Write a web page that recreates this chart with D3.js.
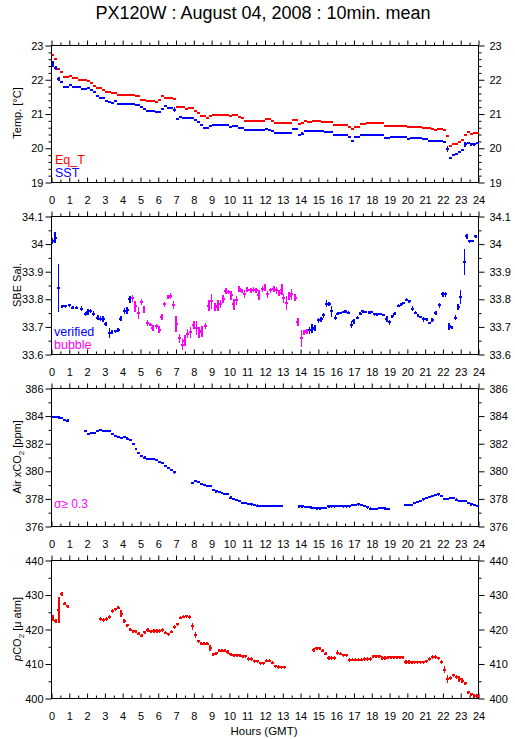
<!DOCTYPE html>
<html><head><meta charset="utf-8">
<script src="https://cdn.jsdelivr.net/npm/d3@7"></script>
<style>
body{margin:0;background:#fff}
svg{display:block}
text{font-family:"Liberation Sans",Arial,Helvetica,sans-serif}
</style>
</head><body>
<svg id="c" width="515" height="739"></svg>
<script>
// ---------------- DATA ----------------
const hourTicks = [0,1,2,3,4,5,6,7,8,9,10,11,12,13,14,15,16,17,18,19,20,21,22,23,24];
const halfTicks = [0.5,1.5,2.5,3.5,4.5,5.5,6.5,7.5,8.5,9.5,10.5,11.5,12.5,13.5,14.5,15.5,16.5,17.5,18.5,19.5,20.5,21.5,22.5,23.5];

// Panel 1: temperatures, 10-minute slots (6 per hour)
const eqT = [
 22.72,22.60,22.32,22.23,22.08,22.08, 22.11,22.06,22.06,22.00,22.00,22.00,
 21.97,21.90,21.83,21.76,21.76,21.69, 21.63,21.63,21.60,21.60,21.56,21.56,
 21.56,21.56,21.56,21.56,21.52,21.52, 21.42,21.42,21.39,21.39,21.39,21.36,
 21.41,21.53,21.47,21.47,21.47,21.44, 21.20,21.20,21.20,21.16,21.18,21.18,
 21.10,21.03,20.93,20.93,20.89,20.95, 20.96,20.96,20.96,20.96,20.96,20.96,
 20.93,20.96,20.96,20.91,20.87,20.81, 20.81,20.81,20.81,20.81,20.81,20.81,
 20.84,20.84,20.81,20.75,20.75,20.75, 20.75,20.75,20.75,20.83,20.83,20.70,
 20.75,20.80,20.78,20.78,20.81,20.81, 20.81,20.77,20.77,20.78,20.78,20.69,
 20.69,20.69,20.69,20.69,20.62,20.55, 20.62,20.62,20.72,20.72,20.73,20.73,
 20.73,20.73,20.73,20.73,20.66,20.66, 20.66,20.66,20.66,20.66,20.66,20.66,
 20.62,20.62,20.62,20.62,20.62,20.59, 20.59,20.59,20.56,20.52,20.55,20.55,
 20.52,20.37,20.08,20.11,20.11,20.18, 20.25,20.39,20.48,20.42,20.45,20.45
];
const sst = [
 22.46,22.34,22.02,21.94,21.80,21.80, 21.85,21.80,21.80,21.80,21.74,21.74,
 21.75,21.70,21.65,21.53,21.48,21.48, 21.39,21.35,21.31,21.37,21.30,21.30,
 21.30,21.30,21.30,21.30,21.26,21.26, 21.20,21.14,21.10,21.10,21.10,21.07,
 21.07,21.14,21.22,21.18,21.18,21.12, 20.86,20.92,20.89,20.89,20.89,20.89,
 20.83,20.77,20.69,20.59,20.59,20.66, 20.67,20.67,20.67,20.67,20.67,20.67,
 20.62,20.65,20.65,20.60,20.60,20.54, 20.52,20.52,20.52,20.52,20.52,20.52,
 20.55,20.52,20.49,20.44,20.44,20.44, 20.44,20.44,20.44,20.55,20.55,20.39,
 20.43,20.51,20.51,20.51,20.51,20.51, 20.51,20.51,20.48,20.48,20.48,20.39,
 20.39,20.39,20.39,20.39,20.34,20.22, 20.32,20.32,20.39,20.39,20.39,20.39,
 20.39,20.39,20.39,20.39,20.30,20.30, 20.34,20.34,20.34,20.34,20.32,20.32,
 20.27,20.30,20.30,20.30,20.30,20.27, 20.27,20.21,20.21,20.21,20.21,20.21,
 20.18,19.98,19.72,19.79,19.84,19.88, 19.95,20.11,20.15,20.11,20.11,20.14
];
const sstErrDefault = 0.03;
const sstErrLarge = {0:0.10, 1:0.05, 2:0.07, 41:0.07, 133:0.10, 139:0.06};

// Panel 2: salinity  [hour, value, std]
const salVerified = [
 [0.05,34.011,0.012],[0.2,34.023,0.02],[0.4,33.842,0.087],[0.6,33.775,0.005],[0.8,33.775,0.005],
 [1.0,33.778,0.005],[1.2,33.77,0.006],[1.4,33.77,0.005],[1.7,33.766,0.008],[1.9,33.746,0.008],
 [2.05,33.754,0.01],[2.2,33.758,0.008],[2.35,33.748,0.008],[2.6,33.734,0.01],[2.75,33.73,0.01],
 [2.9,33.728,0.01],[3.05,33.71,0.008],[3.25,33.678,0.018],[3.4,33.682,0.008],[3.6,33.684,0.005],
 [3.75,33.688,0.008],[3.9,33.73,0.01],[4.1,33.758,0.01],[4.25,33.76,0.012],[4.4,33.8,0.012],
 [14.5,33.688,0.012],[14.65,33.694,0.015],[14.8,33.696,0.01],[15.0,33.724,0.01],[15.15,33.727,0.01],
 [15.3,33.742,0.01],[15.45,33.784,0.012],[15.6,33.784,0.008],[15.75,33.757,0.02],[15.95,33.734,0.01],
 [16.1,33.748,0.005],[16.25,33.75,0.005],[16.4,33.754,0.005],[16.55,33.757,0.005],[16.7,33.752,0.005],
 [16.85,33.708,0.012],[17.0,33.72,0.008],[17.2,33.734,0.005],[17.35,33.748,0.005],[17.5,33.757,0.005],
 [17.65,33.754,0.005],[17.85,33.752,0.004],[18.0,33.754,0.004],[18.15,33.745,0.004],[18.3,33.745,0.004],
 [18.5,33.746,0.004],[18.65,33.742,0.004],[18.85,33.728,0.01],[19.0,33.716,0.01],[19.15,33.739,0.005],
 [19.3,33.748,0.005],[19.5,33.777,0.006],[19.65,33.782,0.005],[19.8,33.787,0.005],[19.95,33.799,0.005],
 [20.1,33.793,0.006],[20.3,33.766,0.008],[20.45,33.752,0.005],[20.6,33.742,0.005],[20.75,33.736,0.004],
 [20.9,33.727,0.008],[21.1,33.727,0.005],[21.25,33.714,0.004],[21.4,33.724,0.008],[21.6,33.75,0.006],
 [21.8,33.778,0.008],[22.0,33.818,0.01],[22.15,33.818,0.01],[22.35,33.702,0.012],[22.5,33.698,0.005],
 [22.7,33.734,0.01],[22.85,33.772,0.01],[23.0,33.808,0.024],[23.2,33.935,0.048],[23.35,34.028,0.01],
 [23.5,34.01,0.005],[23.65,34.011,0.004],[23.85,34.028,0.006]
];
const salBubble = [
 [4.55,33.803,0.012],[4.7,33.775,0.02],[4.9,33.75,0.022],[5.05,33.79,0.012],[5.2,33.763,0.012],
 [5.4,33.714,0.01],[5.55,33.708,0.006],[5.7,33.696,0.012],[5.9,33.702,0.01],[6.05,33.69,0.012],
 [6.2,33.736,0.012],[6.35,33.782,0.01],[6.55,33.808,0.008],[6.7,33.812,0.01],[6.85,33.78,0.015],
 [7.0,33.71,0.03],[7.2,33.658,0.015],[7.35,33.636,0.02],[7.5,33.65,0.02],[7.65,33.676,0.015],
 [7.8,33.68,0.02],[8.0,33.706,0.015],[8.15,33.696,0.025],[8.3,33.68,0.02],[8.45,33.684,0.02],
 [8.65,33.704,0.01],[8.85,33.777,0.02],[9.0,33.793,0.028],[9.2,33.771,0.015],[9.35,33.777,0.02],
 [9.5,33.784,0.015],[9.65,33.801,0.015],[9.8,33.83,0.01],[9.95,33.826,0.008],[10.1,33.814,0.015],
 [10.25,33.782,0.02],[10.4,33.796,0.015],[10.55,33.838,0.01],[10.7,33.83,0.008],[10.85,33.82,0.015],
 [11.0,33.835,0.01],[11.2,33.832,0.01],[11.35,33.835,0.008],[11.5,33.832,0.01],[11.65,33.817,0.018],
 [11.85,33.838,0.01],[12.0,33.842,0.012],[12.15,33.818,0.012],[12.3,33.832,0.01],[12.5,33.838,0.01],
 [12.65,33.832,0.012],[12.8,33.823,0.012],[12.95,33.835,0.02],[13.05,33.803,0.018],[13.2,33.787,0.025],
 [13.35,33.811,0.015],[13.5,33.818,0.02],[13.7,33.806,0.012],[13.85,33.718,0.016],[14.05,33.658,0.03],
 [14.2,33.68,0.01],[14.35,33.684,0.01]
];

// Panel 3: air xCO2, 10-minute slots (null = no data)
const airCO2 = [
 383.94,383.94,383.90,383.85,383.72,383.68, null,null,null,null,null,382.90,
 382.73,382.78,382.80,382.90,382.97,382.90, 382.90,382.90,382.68,382.54,382.50,382.44,
 382.49,382.37,382.25,382.00,381.64,381.35, 381.13,381.00,380.92,380.89,380.89,380.80,
 380.70,380.62,380.36,380.25,380.07,379.92, null,null,null,null,null,379.17,
 379.29,379.20,379.10,378.98,378.91,378.91, 378.66,378.54,378.50,378.45,378.37,378.37,
 378.10,378.00,377.93,377.82,377.72,377.69, 377.62,377.60,377.55,377.52,377.50,377.48,
 377.48,377.48,377.48,377.48,377.48,377.48, null,null,null,null,null,377.45,
 377.45,377.40,377.40,377.38,377.36,377.31, 377.31,377.33,377.36,377.45,377.45,377.45,
 377.48,377.50,377.45,377.45,377.45,377.53, 377.55,377.60,377.55,377.48,377.38,377.30,
 377.28,377.28,377.33,377.33,377.30,377.28, null,null,null,null,null,377.57,
 377.55,377.53,377.72,377.78,377.84,377.96, 378.05,378.13,378.22,378.30,378.32,378.20,
 378.02,378.00,378.05,378.08,377.95,377.85, 377.84,377.84,377.68,377.60,377.55,377.50
];
const airErr = 0.08;

// Panel 4: pCO2, 10-minute slots (null = no data)
const pco2 = [
 423.3,422.5,425.6,430.4,427.5,426.7, null,null,null,null,null,null,
 null,null,null,null,423.1,422.7, 423.1,423.6,425.3,425.8,426.3,424.6,
 422.5,421.2,420.0,419.5,419.4,418.8, 418.2,419.2,419.8,419.5,419.6,419.6,
 419.6,419.8,419.1,418.6,419.4,420.7, 421.5,423.4,423.7,423.8,423.6,420.9,
 418.3,416.6,415.9,415.9,415.9,414.6, 412.8,413.1,413.9,413.9,413.9,413.5,
 412.8,412.5,412.5,412.5,412.2,412.2, 411.4,411.4,410.8,410.8,410.2,410.2,
 411.0,411.0,410.4,409.3,409.1,409.0, 409.0,null,null,null,null,null,
 null,null,null,null,414.1,414.5, 414.5,413.9,413.0,411.8,411.8,411.8,
 413.3,413.0,412.5,412.5,411.2,411.3, 411.3,411.3,411.3,411.5,411.5,411.5,
 412.2,412.2,412.2,411.8,411.8,411.9, 411.9,411.9,411.9,411.9,411.9,410.6,
 410.6,410.5,410.5,410.5,410.5,410.5, 410.8,411.4,412.0,412.0,411.6,410.6,
 408.4,405.7,405.9,406.7,406.2,405.7, 405.2,404.4,401.8,401.2,400.7,400.7
];
const pco2ErrDefault = 0.5;
const pco2ErrLarge = {0:0.8, 2:3.8, 3:0.6, 23:1.0, 47:1.0, 48:0.9, 53:0.8, 96:0.8, 132:1.0, 133:1.2, 137:0.8, 138:0.8};

// axis tick values
const tempMajor = [19,20,21,22,23], tempMinor = [19.2,19.4,19.6,19.8,20.2,20.4,20.6,20.8,21.2,21.4,21.6,21.8,22.2,22.4,22.6,22.8];
const salMajor = [33.6,33.7,33.8,33.9,34.0,34.1], salMinor = [33.65,33.75,33.85,33.95,34.05];
const airMajor = [376,378,380,382,384,386], airMinor = [377,379,381,383,385];
const pMajor = [400,410,420,430,440], pMinor = [405,415,425,435];

// ---------------- DRAWING ----------------
const RED = "#ff0000", BLUE = "#0000ff", MAG = "#ff00ff";
const svg = d3.select("#c");
const x = d3.scaleLinear().domain([0,24]).range([51.5,478.5]);
const slotT = i => i/6 + 1/12;
const halfW = 1/12;

svg.append("text").attr("x",263).attr("y",19).attr("text-anchor","middle")
  .attr("font-size",18).text("PX120W : August 04, 2008 : 10min. mean");

function makePanel(top, bottom, domain, major, minor, fmt) {
  const y = d3.scaleLinear().domain(domain).range([bottom, top]);
  const g = svg.append("g");
  const styleAxis = a => { a.select(".domain").remove(); a.selectAll("line").attr("stroke","#000"); a.selectAll("text").attr("font-size",11).attr("font-family","Liberation Sans, Arial, sans-serif").attr("fill","#000"); };
  g.append("g").attr("transform",`translate(${x.range()[0]},0)`).call(d3.axisLeft(y).tickValues(major).tickSize(6).tickPadding(2).tickFormat(fmt)).call(styleAxis);
  g.append("g").attr("transform",`translate(${x.range()[0]},0)`).call(d3.axisLeft(y).tickValues(minor).tickSize(3).tickFormat("")).call(styleAxis);
  g.append("g").attr("transform",`translate(${x.range()[1]},0)`).call(d3.axisRight(y).tickValues(major).tickSize(6).tickPadding(5).tickFormat(fmt)).call(styleAxis);
  g.append("g").attr("transform",`translate(${x.range()[1]},0)`).call(d3.axisRight(y).tickValues(minor).tickSize(3).tickFormat("")).call(styleAxis);
  g.append("g").attr("transform",`translate(0,${top})`).call(d3.axisTop(x).tickValues(hourTicks).tickSize(5).tickFormat("")).call(styleAxis);
  g.append("g").attr("transform",`translate(0,${top})`).call(d3.axisTop(x).tickValues(halfTicks).tickSize(3).tickFormat("")).call(styleAxis);
  g.append("g").attr("transform",`translate(0,${bottom})`).call(d3.axisBottom(x).tickValues(hourTicks).tickSize(-5).tickPadding(14).tickFormat(d3.format("d"))).call(styleAxis);
  g.append("g").attr("transform",`translate(0,${bottom})`).call(d3.axisBottom(x).tickValues(halfTicks).tickSize(-3).tickFormat("")).call(styleAxis);
  g.append("rect").attr("x",x.range()[0]).attr("y",top).attr("width",x.range()[1]-x.range()[0]).attr("height",bottom-top)
    .attr("fill","none").attr("stroke","#000").attr("stroke-width",1);
  return y;
}

function drawMarks(y, pts, color, hw, vw) {
  const g = svg.append("g").attr("stroke",color).attr("shape-rendering","crispEdges");
  g.selectAll("line.h").data(pts).join("line").attr("class","h")
    .attr("x1",d=>x(d[0]-halfW)).attr("x2",d=>x(d[0]+halfW))
    .attr("y1",d=>y(d[1])).attr("y2",d=>y(d[1])).attr("stroke-width",hw);
  g.selectAll("line.v").data(pts.filter(d=>d[2]>0)).join("line").attr("class","v")
    .attr("x1",d=>x(d[0])).attr("x2",d=>x(d[0]))
    .attr("y1",d=>y(d[1]-d[2])).attr("y2",d=>y(d[1]+d[2])).attr("stroke-width",vw);
}

function yTitle(cx, cy, build) {
  const t = svg.append("text").attr("transform",`translate(${cx},${cy}) rotate(-90)`)
    .attr("text-anchor","middle").attr("font-size",11);
  build(t);
}

// Panel 1
const y1 = makePanel(45.5, 182.5, [19,23], tempMajor, tempMinor, d3.format("d"));
drawMarks(y1, eqT.map((v,i)=>[slotT(i), v, 0]), RED, 2, 1.5);
drawMarks(y1, sst.map((v,i)=>[slotT(i), v, sstErrLarge[i] ?? sstErrDefault]), BLUE, 2, 1.5);
svg.append("text").attr("x",55).attr("y",164).attr("font-size",12.5).attr("fill",RED).text("Eq_T");
svg.append("text").attr("x",55).attr("y",177).attr("font-size",12.5).attr("fill",BLUE).text("SST");
yTitle(21, 113, t => t.text("Temp. [°C]"));

// Panel 2
const y2 = makePanel(216.5, 354.5, [33.6,34.1], salMajor, salMinor, d => String(+d.toFixed(1)));
drawMarks(y2, salVerified, BLUE, 2, 1.5);
drawMarks(y2, salBubble, MAG, 2, 1.5);
svg.append("text").attr("x",54).attr("y",336).attr("font-size",12.5).attr("fill",BLUE).text("verified");
svg.append("text").attr("x",54).attr("y",349).attr("font-size",12.5).attr("fill",MAG).text("bubble");
yTitle(21, 285, t => t.text("SBE Sal."));

// Panel 3
const y3 = makePanel(388.5, 526.5, [376,386], airMajor, airMinor, d3.format("d"));
drawMarks(y3, airCO2.map((v,i)=>[slotT(i), v, airErr]).filter(d=>d[1]!==null), BLUE, 2, 1.5);
svg.append("text").attr("x",54).attr("y",508).attr("font-size",12).attr("fill",MAG).text("σ≥ 0.3");
yTitle(21, 457, t => { t.append("tspan").text("Air xCO"); t.append("tspan").attr("font-size",8).attr("dy",3).text("2"); t.append("tspan").attr("dy",-3).text(" [ppm]"); });

// Panel 4
const y4 = makePanel(560.5, 698.5, [400,440], pMajor, pMinor, d3.format("d"));
drawMarks(y4, pco2.map((v,i)=>[slotT(i), v, pco2ErrLarge[i] ?? pco2ErrDefault]).filter(d=>d[1]!==null), RED, 2, 1.5);
yTitle(21, 629, t => { t.append("tspan").attr("font-style","italic").text("p"); t.append("tspan").text("CO"); t.append("tspan").attr("font-size",8).attr("dy",3).text("2"); t.append("tspan").attr("dy",-3).text(" [μ atm]"); });

svg.append("text").attr("x",264).attr("y",735).attr("text-anchor","middle").attr("font-size",11.5).text("Hours (GMT)");
</script>
</body></html>
